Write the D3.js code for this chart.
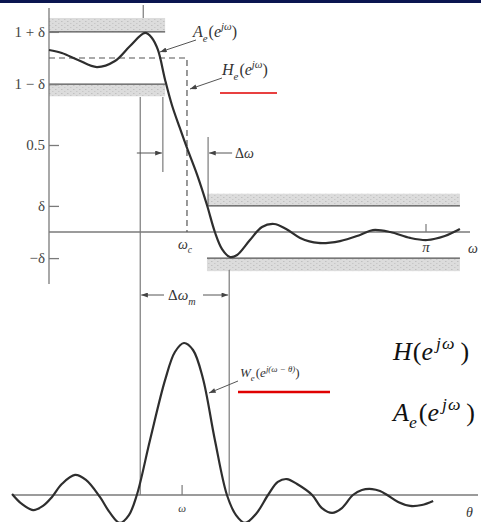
<!DOCTYPE html>
<html><head><meta charset="utf-8">
<script src="https://cdn.jsdelivr.net/npm/d3@7"></script>
<style>html,body{margin:0;padding:0;background:#fff;overflow:hidden}</style>
</head><body>
<svg id="c" width="481" height="522"></svg>
<script>
// ---------- data ----------
const delta = 0.15;
const yTickValues = [1 + delta, 1 - delta, 0.5, delta, -delta];
const yTickLabels = ["1 + δ", "1 − δ", "0.5", "δ", "−δ"];
const omegaC = 0.366;          // cutoff, in units of π
const omegaP = 0.25;           // tick above passband peak
const omegaPassEnd = 0.308;    // end of passband tolerance band
const omegaStopStart = 0.419;  // start of stopband tolerance band
const omegaStopEnd = 1.09;
const omegaLines = [0.242, 0.302, 0.422, 0.478]; // Δω_m left, Δω left, Δω right, Δω_m right
const piTick = 1;
const wPeak = 0.353;

// A_e(e^{jω}): ω/π and amplitude
const aOmega = [0, 0.034, 0.077, 0.127, 0.175, 0.215, 0.255, 0.273, 0.289, 0.308, 0.326, 0.347, 0.366, 0.393, 0.419, 0.440, 0.459, 0.480, 0.499, 0.533, 0.565, 0.597, 0.629, 0.666, 0.714, 0.772, 0.825, 0.859, 0.905, 0.958, 1.003, 1.050, 1.090];
const aAmp   = [1.046, 1.029, 0.989, 0.948, 0.983, 1.069, 1.144, 1.115, 1.046, 0.874, 0.730, 0.598, 0.483, 0.328, 0.155, 0, -0.098, -0.144, -0.132, -0.046, 0.029, 0.046, 0.017, -0.034, -0.063, -0.052, -0.017, 0.011, 0, -0.034, -0.046, -0.023, 0.017];

// W_e(e^{j(ω−θ)}): θ/π and normalised amplitude
const wTheta = [-0.098, -0.072, -0.042, -0.016, 0.008, 0.034, 0.069, 0.098, 0.135, 0.162, 0.188, 0.212, 0.233, 0.268, 0.308, 0.334, 0.358, 0.382, 0.408, 0.440, 0.472, 0.496, 0.520, 0.549, 0.581, 0.607, 0.631, 0.658, 0.698, 0.724, 0.751, 0.777, 0.806, 0.830, 0.857, 0.878, 0.897, 0.926, 0.958, 0.989, 1.019];
const wAmp   = [0.007, -0.059, -0.099, -0.072, -0.013, 0.072, 0.132, 0.099, -0.013, -0.118, -0.184, -0.132, 0, 0.362, 0.757, 0.941, 1.0, 0.954, 0.770, 0.362, 0, -0.132, -0.184, -0.125, 0, 0.086, 0.105, 0.072, 0, -0.086, -0.118, -0.086, 0, 0.033, 0.039, 0.026, 0, -0.046, -0.072, -0.066, -0.039];

// ---------- drawing ----------
const svg = d3.select("#c");
const FONT = "'Liberation Serif', 'DejaVu Serif', serif";
const INK = "#2e2e2e", AX = "#7a7a7a";

const x = d3.scaleLinear().domain([0, 1]).range([49, 426]);
const yTop = d3.scaleLinear().domain([0, 1]).range([232, 58]);
const yBot = d3.scaleLinear().domain([0, 1]).range([495, 343]);

// top bar
svg.append("rect").attr("x", 0).attr("y", 0).attr("width", 481).attr("height", 3).attr("fill", "#0b1650");

const defs = svg.append("defs");
const pat = defs.append("pattern").attr("id", "shade").attr("patternUnits", "userSpaceOnUse").attr("width", 6).attr("height", 4);
pat.append("rect").attr("width", 6).attr("height", 4).attr("fill", "#dcdcdc");
pat.append("rect").attr("x", 1).attr("y", 1).attr("width", 1.5).attr("height", 1).attr("fill", "#c0c0c0");
pat.append("rect").attr("x", 4).attr("y", 3).attr("width", 1.5).attr("height", 1).attr("fill", "#c8c8c8");
defs.append("marker").attr("id", "ah").attr("viewBox", "0 0 8 6").attr("refX", 8).attr("refY", 3)
  .attr("markerWidth", 7).attr("markerHeight", 5).attr("markerUnits", "userSpaceOnUse").attr("orient", "auto")
  .append("path").attr("d", "M0,0L8,3L0,6z").attr("fill", "#444");

// tolerance bands
const bands = [
  {w0: 0, w1: omegaPassEnd, v: 1 + delta, ext: 0.08},
  {w0: 0, w1: omegaPassEnd, v: 1 - delta, ext: -0.07},
  {w0: omegaStopStart, w1: omegaStopEnd, v: delta, ext: 0.07},
  {w0: omegaStopStart, w1: omegaStopEnd, v: -delta, ext: -0.075}
];
bands.forEach(b => {
  const ya = yTop(b.v), yb = yTop(b.v + b.ext);
  svg.append("rect").attr("x", x(b.w0)).attr("width", x(b.w1) - x(b.w0))
    .attr("y", Math.min(ya, yb)).attr("height", Math.abs(yb - ya)).attr("fill", "url(#shade)");
  svg.append("line").attr("x1", x(b.w0)).attr("x2", x(b.w1)).attr("y1", ya).attr("y2", ya)
    .attr("stroke", "#555").attr("stroke-width", 1.4);
});

// axes
svg.append("line").attr("x1", x(0)).attr("x2", x(0)).attr("y1", 8).attr("y2", 284).attr("stroke", AX).attr("stroke-width", 1.3);
svg.append("line").attr("x1", x(0)).attr("x2", 470).attr("y1", yTop(0)).attr("y2", yTop(0)).attr("stroke", AX).attr("stroke-width", 1.3);
const yAxis = d3.axisLeft(yTop).tickValues(yTickValues).tickSizeInner(-10).tickSizeOuter(0).tickPadding(4)
  .tickFormat((d, i) => yTickLabels[i]);
const ga = svg.append("g").attr("transform", `translate(${x(0)},0)`).call(yAxis);
ga.select(".domain").remove();
ga.selectAll(".tick line").attr("stroke", AX).attr("stroke-width", 1.3);
ga.selectAll(".tick text").attr("font-family", FONT).attr("font-size", 15).attr("fill", "#444");

// top tick at ω_p and π tick
svg.append("line").attr("x1", x(omegaP)).attr("x2", x(omegaP)).attr("y1", 5).attr("y2", yTop(1 + delta + 0.08)).attr("stroke", AX).attr("stroke-width", 1.2);
svg.append("line").attr("x1", x(piTick)).attr("x2", x(piTick)).attr("y1", yTop(0) - 8).attr("y2", yTop(0)).attr("stroke", AX).attr("stroke-width", 1.2);

// ideal H_e dashed
svg.append("path").attr("d", `M${x(0)},${yTop(1)}H${x(omegaC)}V${yTop(0)}`)
  .attr("fill", "none").attr("stroke", "#555").attr("stroke-width", 1.2).attr("stroke-dasharray", "6,4");

// vertical construction lines
const vl = (w, y1, y2) => svg.append("line").attr("x1", x(w)).attr("x2", x(w)).attr("y1", y1).attr("y2", y2).attr("stroke", AX).attr("stroke-width", 1.2);
vl(omegaLines[0], 97, yBot(0));
vl(omegaLines[1], 97, 172);
vl(omegaLines[2], 137, yTop(delta));
vl(omegaLines[3], 270, yBot(0));

// lower axis
svg.append("line").attr("x1", 12).attr("x2", 478).attr("y1", yBot(0)).attr("y2", yBot(0)).attr("stroke", AX).attr("stroke-width", 1.3);
svg.append("line").attr("x1", x(wPeak)).attr("x2", x(wPeak)).attr("y1", yBot(0) - 10).attr("y2", yBot(0)).attr("stroke", AX).attr("stroke-width", 1.2);

// curves
const lineTop = d3.line().x((d, i) => x(aOmega[i])).y((d, i) => yTop(aAmp[i])).curve(d3.curveCatmullRom.alpha(0.5));
svg.append("path").attr("d", lineTop(aOmega)).attr("fill", "none").attr("stroke", INK).attr("stroke-width", 2.2);
const lineBot = d3.line().x((d, i) => x(wTheta[i])).y((d, i) => yBot(wAmp[i])).curve(d3.curveCatmullRom.alpha(0.5));
svg.append("path").attr("d", lineBot(wTheta)).attr("fill", "none").attr("stroke", INK).attr("stroke-width", 2.2);

// arrows
const arrow = (x1, y1, x2, y2) => svg.append("line").attr("x1", x1).attr("y1", y1).attr("x2", x2).attr("y2", y2)
  .attr("stroke", "#555").attr("stroke-width", 1).attr("marker-end", "url(#ah)");
arrow(196, 40, 160, 52);
arrow(222, 78, 190, 89);
arrow(238, 381, 209, 393);
arrow(x(omegaLines[1]) - 26, 153, x(omegaLines[1]) - 1, 153);
arrow(x(omegaLines[2]) + 24, 153, x(omegaLines[2]) + 1, 153);
arrow(164, 295, x(omegaLines[0]) + 1, 295);
arrow(203, 295, x(omegaLines[3]) - 1, 295);

// red underlines
svg.append("line").attr("x1", 220).attr("x2", 277).attr("y1", 93).attr("y2", 93).attr("stroke", "#e00000").attr("stroke-width", 1.5);
svg.append("line").attr("x1", 238).attr("x2", 330).attr("y1", 392).attr("y2", 392).attr("stroke", "#e00000").attr("stroke-width", 2.5);

// math text helper
function mtext(xp, yp, size, parts, opts = {}) {
  const t = svg.append("text").attr("x", xp).attr("y", yp).attr("font-size", size)
    .attr("font-family", FONT).attr("fill", opts.fill || "#333").attr("text-anchor", opts.anchor || "start");
  let shift = 0;
  parts.forEach(p => {
    const s = t.append("tspan").text(p.t);
    const target = p.sub ? size * (p.subK || 0.3) : p.sup ? -size * 0.42 : 0;
    s.attr("dy", target - shift); shift = target;
    if (p.sub || p.sup) s.attr("font-size", size * 0.68);
    if (p.i) s.attr("font-style", "italic");
    if (p.dx) s.attr("dx", p.dx);
  });
  return t;
}
mtext(193, 37, 16, [{t: "A", i: 1}, {t: "e", i: 1, sub: 1}, {t: "(", dx: 1}, {t: "e", i: 1}, {t: "jω", i: 1, sup: 1}, {t: ")"}]);
mtext(222, 75, 16, [{t: "H", i: 1}, {t: "e", i: 1, sub: 1}, {t: "(", dx: 1}, {t: "e", i: 1}, {t: "jω", i: 1, sup: 1}, {t: ")"}]);
mtext(235, 158, 14, [{t: "Δ"}, {t: "ω", i: 1}]);
mtext(185, 249, 14, [{t: "ω", i: 1}, {t: "c", i: 1, sub: 1}], {anchor: "middle"});
mtext(x(piTick), 252, 15, [{t: "π", i: 1}], {anchor: "middle"});
mtext(468, 253, 14, [{t: "ω", i: 1}]);
mtext(168, 300, 15, [{t: "Δ"}, {t: "ω", i: 1}, {t: "m", i: 1, sub: 1}]);
mtext(240, 377, 13, [{t: "W", i: 1}, {t: "e", i: 1, sub: 1}, {t: "(", dx: 1}, {t: "e", i: 1}, {t: "j(ω − θ)", i: 1, sup: 1}, {t: ")"}]);
mtext(x(wPeak), 512, 11, [{t: "ω", i: 1}], {anchor: "middle"});
mtext(466, 517, 14, [{t: "θ", i: 1}]);

// big labels
mtext(393, 360, 26, [{t: "H", i: 1}, {t: "(", dx: 1}, {t: "e", i: 1}, {t: "j", i: 1, sup: 1, dx: 3}, {t: "ω", i: 1, sup: 1, dx: 1}, {t: ")", dx: 6}], {fill: "#111"});
mtext(393, 421, 26, [{t: "A", i: 1}, {t: "e", i: 1, sub: 1, subK: 0.25}, {t: "(", dx: 2}, {t: "e", i: 1}, {t: "j", i: 1, sup: 1, dx: 3}, {t: "ω", i: 1, sup: 1, dx: 1}, {t: ")", dx: 6}], {fill: "#111"});
</script>
</body></html>
